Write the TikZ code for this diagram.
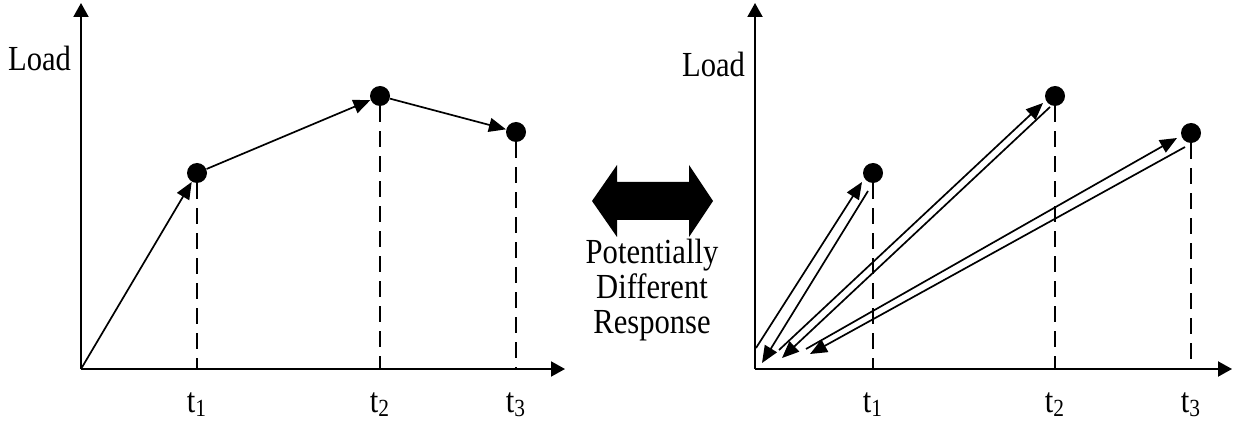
\documentclass[tikz,border=0pt]{standalone}
\usepackage{fontspec}
\setmainfont{Liberation Serif}
\usetikzlibrary{arrows.meta}

\newcommand{\tall}[1]{\scalebox{1}[1.15]{#1}}
\tikzset{
  dot/.style={circle,fill,inner sep=0pt,minimum size=10pt},
  axis/.style={line width=1pt,-{Triangle[length=7pt,width=7.5pt]}},
  load/.style={line width=0.85pt,-{Triangle[length=8.5pt,width=7pt]}},
  drop/.style={line width=0.75pt,dash pattern=on 8pt off 4.5pt},
  lbl/.style={font=\fontsize{15.3}{17.5}\selectfont,inner sep=0pt,anchor=base}
}

\begin{document}
\begin{tikzpicture}[x=0.5pt,y=0.5pt]
\useasboundingbox (0,0) rectangle (1234,423);

% monotonic loading
\coordinate (o1) at (81,54);
\coordinate (y1) at (81,420);
\coordinate (x1) at (565,54);
\draw[axis] (o1) -- (y1);
\draw[axis] (o1) -- (x1);
\node[lbl] (load1) at (39.5,352) {\tall{Load}};
\node[dot] (a1) at (197,250) {};
\node[dot] (b1) at (380,327) {};
\node[dot] (c1) at (516,291) {};
\draw[load] (o1) -- (a1);
\draw[load] (a1) -- (b1);
\draw[load] (b1) -- (c1);
\foreach \p/\t in {a1/1,b1/2,c1/3} {
  \draw[drop] (\p) -- (\p |- o1);
  \node[lbl] (t\t l) at ([yshift=-21.5pt]\p |- o1) {\tall{t\textsubscript{\t}}};
}

% comparison
\fill (592,222) -- (617,258) -- (617,241) -- (689,241) -- (689,258) -- (713,222)
  -- (689,186) -- (689,203) -- (617,203) -- (617,186) -- cycle;
\node[lbl,align=center,anchor=north] (resp) at (652,184)
  {\tall{Potentially}\\\tall{Different}\\\tall{Response}};

% separate load paths
\coordinate (o2) at (755,54);
\coordinate (y2) at (755,420);
\coordinate (x2) at (1232,54);
\draw[axis] (o2) -- (y2);
\draw[axis] (o2) -- (x2);
\node[lbl] (load2) at (713.5,346) {\tall{Load}};
\node[dot] (a2) at (873,250) {};
\node[dot] (b2) at (1055,327) {};
\node[dot] (c2) at (1191,290) {};
\foreach \p/\t in {a2/1,b2/2,c2/3} {
  \draw[drop] (\p) -- (\p |- o2);
  \node[lbl] (t\t r) at ([yshift=-21.5pt]\p |- o2) {\tall{t\textsubscript{\t}}};
}
\coordinate (s1) at (756,75);  \coordinate (e1) at (862,241);
\coordinate (r1) at (868,232); \coordinate (f1) at (762,60);
\coordinate (s2) at (779,73);  \coordinate (e2) at (1043,320);
\coordinate (r2) at (1050,316);\coordinate (f2) at (782,65);
\coordinate (s3) at (806,74);  \coordinate (e3) at (1177,285);
\coordinate (r3) at (1185,276);\coordinate (f3) at (810,69);
\foreach \i in {1,2,3} {
  \draw[load] (s\i) -- (e\i);
  \draw[load] (r\i) -- (f\i);
}
\end{tikzpicture}
\end{document}
